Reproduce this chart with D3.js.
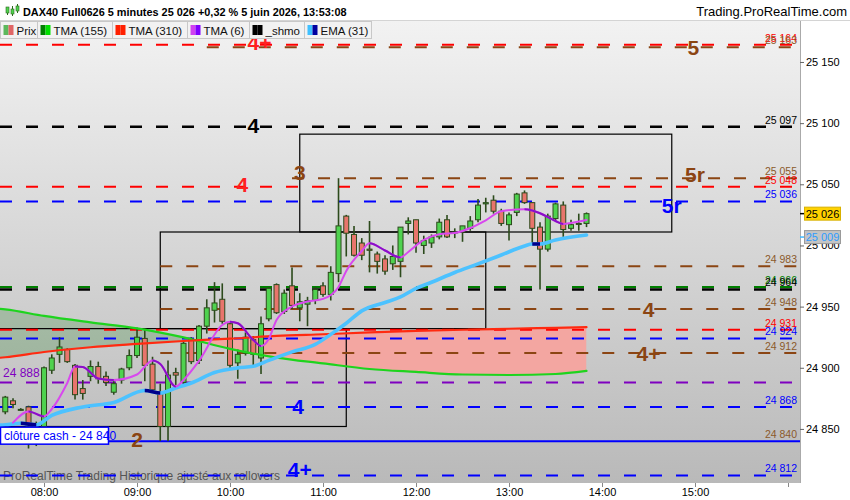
<!DOCTYPE html>
<html lang="fr">
<head>
<meta charset="UTF-8">
<title>DAX40 Full0626 5 minutes</title>
<script src="https://d3js.org/d3.v7.min.js"></script>
<style>
  body { margin: 0; background: #fff; }
  svg { display: block; font-family: "Liberation Sans", Arial, sans-serif; }
</style>
</head>
<body>
<div id="chart"></div>
<script>
// ---- data ----
const candleTimes = ["07:35","07:40","07:45","07:50","07:55","08:00","08:05","08:10","08:15","08:20","08:25","08:30","08:35","08:40","08:45","08:50","08:55",
  "09:00","09:05","09:10","09:15","09:20","09:25","09:30","09:35","09:40","09:45","09:50","09:55","10:00","10:05","10:10","10:15","10:20","10:25","10:30",
  "10:35","10:40","10:45","10:50","10:55","11:00","11:05","11:10","11:15","11:20","11:25","11:30","11:35","11:40","11:45","11:50","11:55","12:00","12:05",
  "12:10","12:15","12:20","12:25","12:30","12:35","12:40","12:45","12:50","12:55","13:00","13:05","13:10","13:15","13:20","13:25","13:30","13:35","13:40",
  "13:45","13:50"];
const opens  = [24864,24873,24866,24868,24845,24852,24898,24911,24915,24902,24883,24893,24901,24893,24880,24890,24900,24910,24924,24903,24879,24852,24896,24888,
  24923,24906,24934,24947,24956,24936,24904,24912,24923,24908,24940,24968,24946,24967,24949,24952,24955,24967,24960,24977,25024,25009,25002,24997,24993,24989,
  24985,24987,25018,25021,25000,25002,25007,25021,25011,25011,25014,25021,25034,25037,25028,25017,25027,25043,25035,25015,24997,25022,25033,25014,25018,25018];
const highs  = [24877,24875,24867,24869,24856,24901,24911,24925,24916,24903,24890,24906,24905,24897,24889,24900,24915,24933,24932,24909,24887,24906,24900,24922,
  24925,24935,24956,24970,24969,24938,24915,24929,24926,24942,24966,24969,24964,24982,24961,24958,24966,24970,24983,25055,25025,25016,25006,25020,24995,24992,
  25000,25015,25023,25021,25008,25009,25022,25025,25014,25016,25024,25038,25039,25041,25030,25027,25043,25045,25035,25019,25026,25035,25036,25021,25026,25027];
const lows   = [24862,24867,24865,24834,24836,24849,24895,24904,24904,24874,24874,24889,24887,24885,24878,24887,24898,24908,24889,24880,24840,24840,24886,24885,
  24903,24903,24928,24937,24936,24899,24891,24910,24902,24895,24938,24944,24944,24948,24938,24934,24952,24958,24955,24970,24991,24991,24988,24978,24977,24976,
  24980,24974,25009,24994,24993,24998,25005,25006,25006,25003,25012,25019,25027,25026,25016,25004,25024,25034,25001,24964,24995,25020,25007,25012,25012,25015];
const closes = [24876,24870,24866,24852,24852,24900,24908,24917,24905,24878,24879,24901,24891,24888,24887,24899,24910,24925,24902,24882,24852,24894,24894,24920,
  24905,24934,24949,24953,24938,24902,24911,24925,24911,24936,24965,24945,24961,24951,24954,24955,24964,24960,24978,25016,25010,24992,24992,24996,24987,24979,
  24991,25015,25020,25002,25004,25007,25019,25007,25011,25016,25020,25033,25035,25028,25018,25025,25042,25035,25014,24997,25024,25034,25013,25017,25018,25026];

// slow triangular moving averages
const maTimes = ["07:30","07:35","08:00","08:30","09:00","09:30","10:00","10:30","11:00","11:30","12:00","12:30","13:00","13:30","13:50"];
const tma155 = [24948.3,24947.7,24942.4,24937.1,24932.2,24924.8,24915.5,24908.3,24903.6,24899.0,24896.6,24894.5,24894.1,24894.9,24897.4];
const tma310 = [24908.0,24908.6,24912.9,24916.8,24919.5,24921.9,24923.8,24926.0,24927.4,24928.9,24930.1,24931.1,24931.9,24932.7,24933.2];

const emaTimes = ["07:30","07:35","07:45","07:55","08:05","08:25","08:45","09:05","09:15","09:25","09:35","09:50","10:05","10:15","10:25","10:40","10:55",
  "11:05","11:15","11:25","11:40","11:50","12:00","12:10","12:25","12:40","12:55","13:10","13:15","13:20","13:30","13:50"];
const ema31 = [24853.0,24853.4,24854.6,24853.3,24861.0,24868.0,24871.7,24881.4,24879.4,24883.5,24887.6,24896.2,24899.9,24901.2,24906.0,24913.0,24919.1,
  24927.3,24936.4,24946.5,24953.4,24957.9,24964.9,24969.9,24977.9,24984.9,24992.2,24999.6,25001.2,25001.2,25004.4,25008.5];
const emaLastLabel = 25009;

const tma6Times = ["07:40","07:50","08:00","08:05","08:15","08:20","08:25","08:35","08:45","09:00","09:10","09:15","09:25","09:30","09:40","09:55","10:00",
  "10:05","10:15","10:20","10:25","10:30","10:40","10:50","11:00","11:10","11:15","11:25","11:30","11:40","11:50","11:55","12:05","12:15","12:25","12:35",
  "12:45","12:55","13:10","13:15","13:20","13:30","13:35","13:40","13:50"];
const tma6 = [24855.1,24864.3,24860.2,24866.3,24887.6,24901.1,24900.7,24891.3,24890.0,24894.5,24906.0,24903.1,24884.7,24890.0,24905.6,24935.0,24937.7,
  24936.4,24922.7,24917.8,24923.6,24939.1,24950.1,24954.2,24956.3,24966.1,24979.2,24995.5,25001.8,24995.9,24990.2,24994.7,25004.5,25009.2,25010.2,25014.3,
  25020.6,25028.0,25029.6,25028.6,25026.3,25020.0,25017.6,25018.4,25020.8];

// horizontal levels
const levelValues = [25164, 25162, 25097, 25055, 25048, 25036, 24983, 24966, 24964, 24948, 24931, 24924, 24912, 24888, 24868, 24812];
const levelColors = ["#ff0000","#8b4513","#000000","#8b4513","#ff0000","#0000ff","#8b4513","#008000","#000000","#8b4513","#ff0000","#0000ff","#8b4513","#7f00c0","#0000ff","#0000ff"];
const levelStarts = [null,"09:45",null,"10:40",null,null,"09:15",null,null,"09:15",null,null,"09:15",null,null,null];
const levelLabels = ["25 164","25 163","25 097","25 055","25 048","25 036","24 983","24 966","24 964","24 948","24 931","24 924","24 912","","24 868","24 812"];

const cashValue = 24840;
const cashLabel = "clôture cash -  24 840";
const purpleLabel = "24 888";

const markerTexts  = ["5","4+","4","3","4","5r","5r","4","4+","4","2","4+"];
const markerValues = [25162,25166,25098,25060,25050,25058,25033,24948,24912,24868,24841,24817];
const markerTimes  = ["14:59","10:19","10:15","10:45","10:08","15:00","14:45","14:30","14:30","10:44","09:00","10:45"];
const markerColors = ["#8b4513","#ff2020","#000000","#8b4513","#ff2020","#8b4513","#0000ff","#8b4513","#8b4513","#0000ff","#8b4513","#0000ff"];

const boxStarts = ["07:15","09:15","10:45"];
const boxEnds   = ["11:15","12:45","14:45"];
const boxLows   = [24852, 24932, 25011];
const boxHighs  = [24932, 25011, 25091];

const yTicks = [24850, 24900, 24950, 25000, 25050, 25100, 25150];
const lastPrice = 25026;

const legendNames  = ["Prix","TMA (155)","TMA (310)","TMA (6)","_shmo","EMA (31)"];
const legendColorA = ["#5cb85c","#008000","#ff2000","#d040f0","#000000","#40c0ff"];
const legendColorB = ["#e06666","#00e000","#ff2000","#8000ff","#000000","#0000a0"];

const titleText = "DAX40 Full0626 5 minutes 25 026 +0,32 % 5 juin 2026, 13:53:08";
const siteText = "Trading.ProRealTime.com";
const footText = "ProRealTime Trading  Historique ajusté aux rollovers";

// ---- chart ----
const W = 850, H = 500;
const P = {left: 0, right: 800, top: 21, bottom: 483};
const parseFull = d3.timeParse("%Y-%m-%d %H:%M:%S");
const T = s => parseFull("2026-06-05 " + s + (s.length === 5 ? ":00" : ""));
const fmt = v => d3.format(",")(Math.round(v)).replace(/,/g, " ");

const x = d3.scaleTime().domain([T("07:31:36"), T("16:07:44")]).range([P.left, P.right]);
const y = d3.scaleLinear().domain([24805.8, 25183.5]).range([P.bottom, P.top]);

const svg = d3.select("#chart").append("svg").attr("width", W).attr("height", H);
const defs = svg.append("defs");

const grad = defs.append("linearGradient").attr("id", "bg").attr("x1", 0).attr("y1", 0).attr("x2", 0).attr("y2", 1);
grad.append("stop").attr("offset", "0%").attr("stop-color", "#f2f2f2");
grad.append("stop").attr("offset", "100%").attr("stop-color", "#b9b9b9");

defs.append("clipPath").attr("id", "plotClip").append("rect")
  .attr("x", P.left).attr("y", P.top).attr("width", P.right - P.left).attr("height", P.bottom - P.top);

svg.append("rect").attr("width", W).attr("height", H).attr("fill", "#fff");
svg.append("rect").attr("x", P.left).attr("y", P.top).attr("width", P.right - P.left).attr("height", P.bottom - P.top)
  .attr("fill", "url(#bg)");

const g = svg.append("g").attr("clip-path", "url(#plotClip)");

// footer text sits under the levels
g.append("text").attr("x", 3).attr("y", 480).attr("font-size", 12).attr("fill", "#555").text(footText);

// fill between the two slow averages
const slow = maTimes.map((t, i) => ({t: T(t), a: tma155[i], b: tma310[i]}));
const curve = d3.curveMonotoneX;
defs.append("clipPath").attr("id", "aboveRed").append("path")
  .attr("d", d3.area().x(d => x(d.t)).y0(0).y1(d => y(d.b)).curve(curve)(slow));
defs.append("clipPath").attr("id", "belowRed").append("path")
  .attr("d", d3.area().x(d => x(d.t)).y0(d => y(d.b)).y1(H).curve(curve)(slow));
const between = d3.area().x(d => x(d.t)).y0(d => y(d.b)).y1(d => y(d.a)).curve(curve);
g.append("path").attr("d", between(slow)).attr("fill", "rgba(0,110,0,0.2)").attr("clip-path", "url(#aboveRed)");
g.append("path").attr("d", between(slow)).attr("fill", "#f3a6a1").attr("clip-path", "url(#belowRed)");

// zone boxes
g.selectAll(".zone").data(boxStarts).join("rect")
  .attr("x", d => x(T(d))).attr("y", (d, i) => y(boxHighs[i]))
  .attr("width", (d, i) => x(T(boxEnds[i])) - x(T(d)))
  .attr("height", (d, i) => y(boxLows[i]) - y(boxHighs[i]))
  .attr("fill", "none").attr("stroke", "#000").attr("stroke-width", 1.2);

// dashed levels
g.selectAll(".lvl").data(levelValues).join("line")
  .attr("x1", (d, i) => levelStarts[i] ? x(T(levelStarts[i])) : P.left)
  .attr("x2", P.right - 3)
  .attr("y1", d => y(d)).attr("y2", d => y(d))
  .attr("stroke", (d, i) => levelColors[i])
  .attr("stroke-width", (d, i) => levelColors[i] === "#000000" ? 2.5 : 2)
  .attr("stroke-dasharray", "12,14");

// cash close line
g.append("line").attr("x1", P.left).attr("x2", P.right).attr("y1", y(cashValue)).attr("y2", y(cashValue))
  .attr("stroke", "#0000ff").attr("stroke-width", 2);

// candles
const candles = candleTimes.map((t, i) => ({t: T(t), o: opens[i], h: highs[i], l: lows[i], c: closes[i]}));
const bw = 5;
g.selectAll(".wick").data(candles).join("line")
  .attr("x1", d => x(d.t)).attr("x2", d => x(d.t))
  .attr("y1", d => y(d.h)).attr("y2", d => y(d.l))
  .attr("stroke", "#2c4a1c").attr("stroke-width", 1.6);
g.selectAll(".body").data(candles).join("rect")
  .attr("x", d => x(d.t) - bw / 2)
  .attr("y", d => y(Math.max(d.o, d.c)))
  .attr("width", bw)
  .attr("height", d => Math.max(1, Math.abs(y(d.o) - y(d.c))))
  .attr("fill", d => d.c >= d.o ? "#4fd24f" : "#e8756c")
  .attr("stroke", "#2c4a1c").attr("stroke-width", 1);

// moving averages: one path, then falling parts redrawn in the darker colour
function maLine(times, vals, up, down, width, id) {
  const pts = times.map((t, i) => ({t: T(t), v: vals[i]}));
  const line = d3.line().x(d => x(d.t)).y(d => y(d.v)).curve(d3.curveMonotoneX);
  g.append("path").attr("d", line(pts)).attr("fill", "none").attr("stroke", up)
    .attr("stroke-width", width).attr("stroke-linejoin", "round").attr("stroke-linecap", "round");
  if (!down) return;
  const cp = defs.append("clipPath").attr("id", id);
  for (let i = 0; i < pts.length - 1; i++) {
    if (pts[i + 1].v <= pts[i].v) {
      cp.append("rect").attr("x", x(pts[i].t)).attr("y", 0)
        .attr("width", x(pts[i + 1].t) - x(pts[i].t)).attr("height", H);
    }
  }
  g.append("path").attr("d", line(pts)).attr("fill", "none").attr("stroke", down)
    .attr("stroke-width", width).attr("clip-path", `url(#${id})`);
}
maLine(maTimes, tma155, "#1ed41e", null, 2.2);
maLine(maTimes, tma310, "#ff2a10", null, 2.2);
maLine(emaTimes, ema31, "#4cc2ff", "#00008b", 3.6, "emaDown");
maLine(tma6Times, tma6, "#d848ee", "#8a10c8", 2, "tma6Down");

// level markers
g.selectAll(".mk").data(markerTexts).join("text")
  .attr("x", (d, i) => x(T(markerTimes[i])))
  .attr("y", (d, i) => y(markerValues[i]))
  .attr("text-anchor", "middle").attr("dominant-baseline", "central")
  .attr("font-size", 21).attr("font-weight", "bold")
  .attr("fill", (d, i) => markerColors[i])
  .text(d => d);

// purple level value on the left
g.append("text").attr("x", 3).attr("y", y(levelValues[13]) - 5).attr("font-size", 12)
  .attr("fill", "#7f00c0").text(purpleLabel);

// cash close tag
const cashY = y(cashValue);
g.append("rect").attr("x", 0.5).attr("y", cashY - 14).attr("width", 108).attr("height", 17)
  .attr("fill", "#fff").attr("stroke", "#0000ff").attr("stroke-width", 1.5);
g.append("text").attr("x", 4).attr("y", cashY - 1).attr("font-size", 12).attr("fill", "#0000ff").text(cashLabel);

// right-hand level values (not clipped, the top ones spill above)
svg.selectAll(".lv").data(levelLabels).join("text")
  .attr("x", P.right - 3).attr("y", (d, i) => y(levelValues[i]) - 3)
  .attr("text-anchor", "end").attr("font-size", 10.5)
  .attr("fill", (d, i) => levelColors[i] === "#8b4513" ? "#8b5a2b" : levelColors[i])
  .text(d => d);
svg.append("text").attr("x", P.right - 3).attr("y", y(cashValue) - 3).attr("text-anchor", "end")
  .attr("font-size", 10.5).attr("fill", "#8b5a2b").text(fmt(cashValue));

// ---- axes ----
svg.append("line").attr("x1", P.right + 0.5).attr("x2", P.right + 0.5).attr("y1", P.top).attr("y2", P.bottom)
  .attr("stroke", "#aaa");

svg.append("g").attr("transform", `translate(${P.right},0)`)
  .call(d3.axisRight(y).tickValues(yTicks).tickSize(4).tickFormat(fmt))
  .call(a => a.select(".domain").remove())
  .call(a => a.selectAll("line").attr("stroke", "#666"))
  .call(a => a.selectAll("text").attr("font-size", 11).attr("fill", "#000")
    .attr("font-family", "Liberation Sans, Arial, sans-serif").attr("x", 6));

svg.append("g").attr("transform", `translate(0,${P.bottom})`)
  .call(d3.axisBottom(x).ticks(d3.timeHour.every(1)).tickSize(4)
    .tickFormat(d => d.getHours() < 16 ? d3.timeFormat("%H:%M")(d) : ""))
  .call(a => a.select(".domain").remove())
  .call(a => a.selectAll("line").attr("stroke", "#888"))
  .call(a => a.selectAll("text").attr("font-size", 11).attr("fill", "#000")
    .attr("font-family", "Liberation Sans, Arial, sans-serif").attr("dy", "0.55em"));

// price tags on the axis
function tag(v, yy, fill, stroke, textColor, tickColor) {
  svg.append("line").attr("x1", P.right).attr("x2", P.right + 5).attr("y1", yy).attr("y2", yy)
    .attr("stroke", tickColor).attr("stroke-width", 1.5);
  svg.append("rect").attr("x", P.right + 4.5).attr("y", yy - 6.5).attr("width", 36).attr("height", 13)
    .attr("fill", fill).attr("stroke", stroke);
  svg.append("text").attr("x", P.right + 22.5).attr("y", yy + 4).attr("text-anchor", "middle")
    .attr("font-size", 11).attr("fill", textColor).text(fmt(v));
}
tag(lastPrice, y(lastPrice), "#ffd200", "#d8b000", "#000", "#000");
tag(emaLastLabel, y(ema31[ema31.length - 1]) + 2, "#c4c4c4", "#9a9a9a", "#2f9cff", "#40b8ff");

// ---- header and legend ----
svg.append("rect").attr("width", W).attr("height", 20).attr("fill", "#fff");
svg.append("line").attr("x1", 0).attr("x2", W).attr("y1", 20.5).attr("y2", 20.5).attr("stroke", "#d4d4d4");
const icon = svg.append("g").attr("transform", "translate(4,4)");
[[2, 6, 11, 3, 9], [7, 2, 12, 5, 10], [12, 0, 9, 2, 7]].forEach(c => {
  icon.append("line").attr("x1", c[0] + 1.5).attr("x2", c[0] + 1.5).attr("y1", c[1]).attr("y2", c[2])
    .attr("stroke", "#2c6a1c");
  icon.append("rect").attr("x", c[0]).attr("y", c[3]).attr("width", 3).attr("height", c[4] - c[3])
    .attr("fill", "#4fd24f").attr("stroke", "#2c6a1c").attr("stroke-width", 0.6);
});
svg.append("text").attr("x", 23).attr("y", 16).attr("font-size", 10.9).attr("font-weight", "bold").text(titleText);
svg.append("text").attr("x", 847).attr("y", 16).attr("text-anchor", "end").attr("font-size", 13).text(siteText);

const legendWidths = [37, 75, 75, 62, 55, 67];
let lx = 0.5;
legendNames.forEach((name, i) => {
  const it = svg.append("g").attr("transform", `translate(${lx},21.5)`);
  it.append("rect").attr("width", legendWidths[i]).attr("height", 17).attr("fill", "#f2f2f2").attr("stroke", "#c8c8c8");
  it.append("rect").attr("x", 3).attr("y", 3.5).attr("width", 5).attr("height", 10).attr("fill", legendColorA[i]);
  it.append("rect").attr("x", 8).attr("y", 3.5).attr("width", 5).attr("height", 10).attr("fill", legendColorB[i]);
  it.append("text").attr("x", 16).attr("y", 13).attr("font-size", 11.5).attr("fill", "#111").text(name);
  lx += legendWidths[i];
});
</script>
</body>
</html>
